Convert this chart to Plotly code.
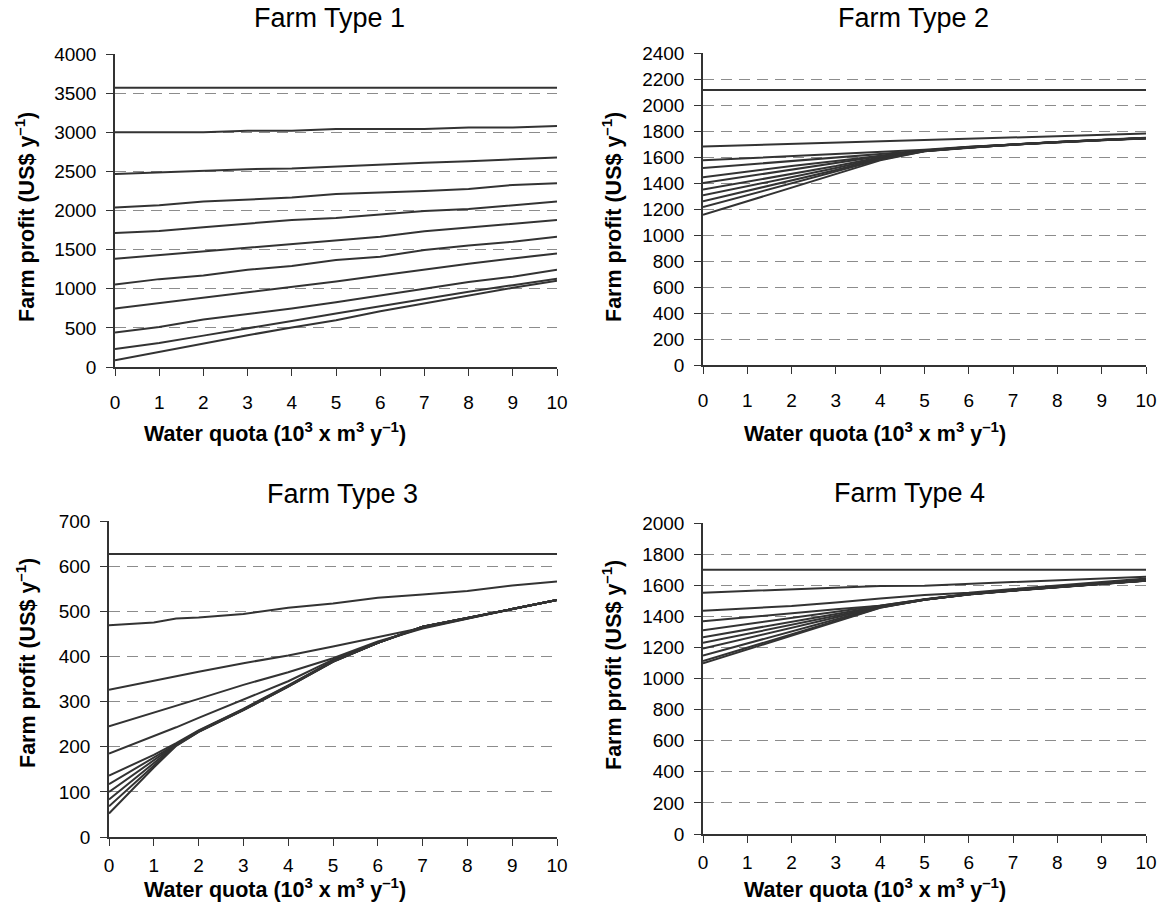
import plotly.graph_objects as go

# ---------------- data ----------------
x_q = [0, 1, 2, 3, 4, 5, 6, 7, 8, 9, 10]
x_q3 = [0, 1, 1.5, 2, 3, 4, 5, 6, 7, 8, 9, 10]

farm1 = [
    [3570, 3570, 3570, 3570, 3570, 3570, 3570, 3570, 3570, 3570, 3570],
    [3000, 3000, 3000, 3020, 3020, 3040, 3040, 3040, 3060, 3060, 3080],
    [2468, 2489, 2511, 2528, 2536, 2562, 2588, 2609, 2630, 2656, 2677],
    [2037, 2067, 2114, 2139, 2165, 2212, 2229, 2250, 2276, 2327, 2349],
    [1712, 1738, 1785, 1836, 1879, 1905, 1951, 1994, 2020, 2067, 2114],
    [1383, 1430, 1473, 1524, 1571, 1623, 1665, 1734, 1785, 1832, 1879],
    [1055, 1123, 1170, 1243, 1290, 1366, 1409, 1494, 1554, 1601, 1665],
    [747, 815, 888, 956, 1025, 1093, 1170, 1247, 1319, 1388, 1452],
    [440, 512, 606, 675, 747, 828, 914, 1008, 1085, 1153, 1243],
    [231, 307, 401, 491, 589, 683, 777, 863, 961, 1046, 1127],
    [85, 192, 307, 406, 504, 598, 713, 811, 918, 1012, 1102],
]

farm2 = [
    [2115, 2115, 2115, 2115, 2115, 2115, 2115, 2115, 2115, 2115, 2115],
    [1680, 1690, 1700, 1710, 1722, 1735, 1745, 1755, 1765, 1775, 1780],
    [1575, 1590, 1605, 1620, 1637, 1655, 1678, 1698, 1715, 1732, 1748],
    [1515, 1542, 1568, 1594, 1625, 1652, 1677, 1697, 1715, 1731, 1747],
    [1445, 1490, 1530, 1570, 1612, 1650, 1676, 1697, 1715, 1731, 1746],
    [1400, 1450, 1500, 1550, 1605, 1649, 1675, 1697, 1715, 1730, 1746],
    [1350, 1410, 1470, 1530, 1598, 1648, 1675, 1697, 1715, 1730, 1745],
    [1305, 1375, 1445, 1515, 1592, 1647, 1674, 1696, 1715, 1730, 1745],
    [1260, 1340, 1420, 1500, 1586, 1646, 1674, 1696, 1714, 1730, 1744],
    [1215, 1305, 1395, 1485, 1580, 1645, 1673, 1696, 1714, 1729, 1744],
    [1155, 1260, 1365, 1470, 1574, 1644, 1673, 1695, 1714, 1729, 1743],
]

farm3 = [
    [627, 627, 627, 627, 627, 627, 627, 627, 627, 627, 627, 627],
    [469, 475, 484, 486, 494, 508, 517, 530, 537, 545, 557, 566],
    [326, 346, 357, 366, 385, 402, 422, 443, 464, 484, 505, 525],
    [245, 275, 291, 306, 337, 365, 396, 433, 462, 484, 505, 525],
    [185, 223, 243, 264, 304, 345, 393, 430, 464, 484, 505, 525],
    [136, 182, 208, 236, 284, 336, 390, 430, 466, 485, 505, 525],
    [117, 176, 206, 235, 283, 335, 389, 430, 466, 485, 505, 525],
    [100, 170, 205, 234, 282, 334, 389, 430, 466, 485, 505, 525],
    [83, 164, 204, 234, 282, 334, 389, 430, 466, 485, 505, 525],
    [68, 159, 203, 233, 281, 333, 388, 430, 466, 485, 505, 525],
    [52, 154, 202, 233, 281, 333, 388, 430, 466, 485, 505, 525],
]

farm4 = [
    [1700, 1700, 1700, 1700, 1700, 1700, 1700, 1700, 1700, 1700, 1700],
    [1552, 1562, 1573, 1585, 1595, 1597, 1608, 1618, 1629, 1642, 1655],
    [1436, 1453, 1466, 1488, 1515, 1537, 1552, 1575, 1597, 1620, 1643],
    [1368, 1395, 1420, 1445, 1468, 1510, 1543, 1568, 1590, 1610, 1632],
    [1310, 1350, 1390, 1430, 1466, 1508, 1542, 1567, 1589, 1609, 1631],
    [1265, 1315, 1365, 1415, 1464, 1508, 1542, 1567, 1589, 1609, 1631],
    [1229, 1287, 1345, 1403, 1462, 1508, 1542, 1567, 1589, 1609, 1630],
    [1193, 1260, 1327, 1393, 1460, 1507, 1541, 1566, 1588, 1609, 1630],
    [1148, 1226, 1304, 1382, 1458, 1507, 1541, 1566, 1588, 1608, 1630],
    [1112, 1198, 1284, 1370, 1456, 1506, 1540, 1566, 1588, 1608, 1629],
    [1097, 1186, 1276, 1365, 1455, 1506, 1540, 1565, 1588, 1608, 1629],
]

titles = ["Farm Type 1", "Farm Type 2", "Farm Type 3", "Farm Type 4"]
y_max = [4000, 2400, 700, 2000]
y_step = [500, 200, 100, 200]
x_ticks = [0, 1, 2, 3, 4, 5, 6, 7, 8, 9, 10]

x_label = "<b>Water quota (10<sup>3</sup> x m<sup>3</sup> y<sup>\u20131</sup>)</b>"
y_label = "<b>Farm profit (US$ y<sup>\u20131</sup>)</b>"

# ---------------- figure ----------------
W, H = 1160, 911
FONT = "Liberation Sans, Arial, sans-serif"
LINE = "#333333"


def fx(px):
    return px / W


def fy(py):
    return 1 - py / H


# pixel boxes of plot areas: (left, right, top, bottom)
boxes = [(115, 557, 54, 367), (703, 1146, 53, 365),
         (109, 557, 521, 837), (703, 1146, 523, 834)]
x_standoff = [10, 10, 3, 3]

fig = go.Figure()
series = [(x_q, farm1), (x_q, farm2), (x_q3, farm3), (x_q, farm4)]
for i, (xs, data) in enumerate(series):
    xa = "x" if i == 0 else f"x{i+1}"
    ya = "y" if i == 0 else f"y{i+1}"
    for ys in data:
        fig.add_trace(go.Scatter(x=xs, y=ys, mode="lines", xaxis=xa, yaxis=ya,
                                 line=dict(color=LINE, width=2), showlegend=False,
                                 hoverinfo="skip"))

layout = dict(width=W, height=H, margin=dict(l=0, r=0, t=0, b=0),
              paper_bgcolor="white", plot_bgcolor="white",
              font=dict(family=FONT, size=18, color="black"))
for i, (l, r, t, b) in enumerate(boxes):
    k = "" if i == 0 else str(i + 1)
    layout[f"xaxis{k}"] = dict(
        domain=[fx(l), fx(r)], anchor=f"y{k}", range=[0, 10],
        tickvals=x_ticks, showgrid=False, zeroline=False, automargin=False,
        showline=True, linecolor=LINE, linewidth=1.5,
        ticks="outside", ticklen=7, tickwidth=1.2, tickcolor=LINE,
        ticklabelstandoff=x_standoff[i], ticklabeloverflow="allow",
        tickfont=dict(size=19, family=FONT, color="black"))
    layout[f"yaxis{k}"] = dict(
        domain=[fy(b), fy(t)], anchor=f"x{k}", range=[0, y_max[i]],
        dtick=y_step[i], tick0=0, showgrid=True, gridcolor="#8c8c8c",
        gridwidth=1, griddash="11px,7px", zeroline=False, automargin=False,
        showline=True, linecolor=LINE, linewidth=1.5,
        ticks="outside", ticklen=7, tickwidth=1.2, tickcolor=LINE,
        ticklabelstandoff=6, ticklabeloverflow="allow",
        tickfont=dict(size=19, family=FONT, color="black"))
fig.update_layout(**layout)

# titles and axis labels as annotations (pixel positions)
title_pos = [(329, 18), (913, 18), (342, 494), (909, 493)]
xlab_pos = [(275, 432), (875, 432), (275, 888), (875, 888)]
ylab_pos = [(25, 217), (612, 217), (26, 663), (612, 665)]
for i in range(4):
    tx, ty = title_pos[i]
    fig.add_annotation(text=titles[i], x=fx(tx), y=fy(ty), xref="paper", yref="paper",
                       showarrow=False, xanchor="center", yanchor="middle",
                       font=dict(size=27, family=FONT, color="black"))
    ax_, ay_ = xlab_pos[i]
    fig.add_annotation(text=x_label, x=fx(ax_), y=fy(ay_), xref="paper", yref="paper",
                       showarrow=False, xanchor="center", yanchor="middle",
                       font=dict(size=21.5, family=FONT, color="black"))
    bx, by = ylab_pos[i]
    fig.add_annotation(text=y_label, x=fx(bx), y=fy(by), xref="paper", yref="paper",
                       showarrow=False, xanchor="center", yanchor="middle", textangle=-90,
                       font=dict(size=21.5, family=FONT, color="black"))

fig.write_html("out.html")
